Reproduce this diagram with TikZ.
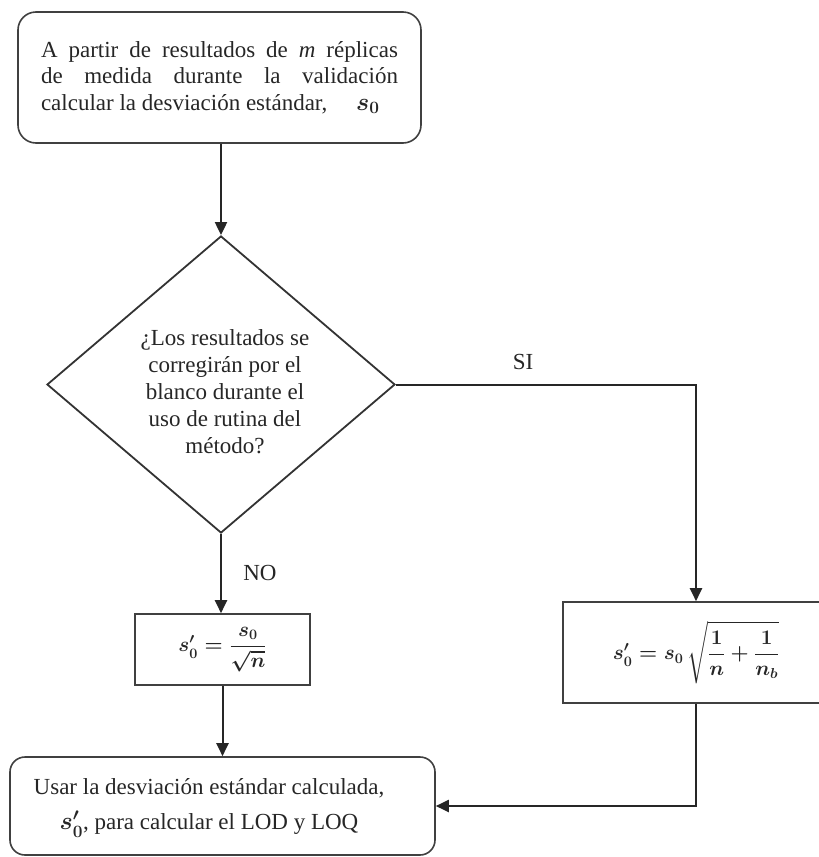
\documentclass[tikz,border=0pt]{standalone}
\usepackage{fontspec}
\setmainfont{Liberation Serif}
\usepackage{amsmath}
\usetikzlibrary{shapes.geometric,arrows.meta}
\begin{document}
\begin{tikzpicture}[x=1pt,y=-1pt,
  every node/.style={font=\fontsize{23}{27}\selectfont, text=black!85},
  mathfont/.style={font=\fontsize{20}{24}\selectfont},
  conn/.style={draw=black!85, line width=2pt},
  arr/.style={conn,-{Triangle[length=13pt,width=12pt]}},
  rbox/.style={draw=black!75,line width=1.6pt,rounded corners=18pt,inner sep=0pt},
  sbox/.style={draw=black!75,line width=1.6pt,inner sep=0pt},
  decision/.style={diamond,draw=black!80,line width=1.8pt,inner sep=0pt,aspect=1.17,minimum width=348pt,minimum height=297pt},
  lbl/.style={inner sep=0pt}]
\clip (0,0) rectangle (819,857);

\node[rbox, minimum width=403pt, minimum height=131pt] (top) at (219.5,77.5)
  {\parbox{357pt}{\tolerance=10000\fontsize{23}{26.5}\selectfont A partir de resultados de \textit{m} réplicas\linebreak de medida durante la validación\linebreak calcular la desviación estándar, \quad $\boldsymbol{s_0}$}};

\node[decision] (dia) at (221,384.5) {};
\node[align=center, inner sep=0pt] (diatext) at (225,392)
  {¿Los resultados se\\ corregirán por el\\ blanco durante el\\ uso de rutina del\\ método?};

\node[sbox, mathfont, minimum width=175pt, minimum height=71pt] (nob) at (222.5,649.5)
  {$\displaystyle\boldsymbol{s'_0=\frac{s_0}{\sqrt{n}}}$};

\node[sbox, mathfont, minimum width=266pt, minimum height=101pt] (sib) at (696,652.5)
  {$\displaystyle\boldsymbol{s'_0=s_0\,\sqrt{\frac{1}{n}+\frac{1}{n_b}}}$};

\node[rbox, rounded corners=15pt, minimum width=425pt, minimum height=98pt] (fin) at (222.5,806) {};
\node[align=center, inner sep=0pt] (fintext) at (209,808)
  {Usar la desviación estándar calculada,\\[8pt] $\boldsymbol{s'_0}$, para calcular el LOD y LOQ};

\node[lbl] (no) at (260,573) {NO};
\node[lbl] (si) at (523,362) {SI};

\draw[arr] (dia.north |- top.south) -- (dia.north);
\draw[arr] (dia.south) -- (dia.south |- nob.north);
\draw[arr] (nob.south) -- (nob.south |- fin.north);
\draw[arr] (dia.east) -| (sib.north);
\draw[arr] (sib.south) |- (fin.east);
\end{tikzpicture}
\end{document}
